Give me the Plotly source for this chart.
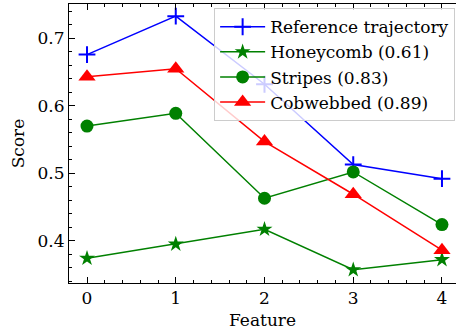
import plotly.graph_objects as go

features = [0, 1, 2, 3, 4]
reference = [0.676, 0.733, 0.632, 0.513, 0.492]
honeycomb = [0.374, 0.395, 0.417, 0.357, 0.372]
stripes = [0.570, 0.589, 0.463, 0.502, 0.424]
cobwebbed = [0.643, 0.655, 0.547, 0.469, 0.386]

names = ["Reference trajectory", "Honeycomb (0.61)", "Stripes (0.83)", "Cobwebbed (0.89)"]
series = [reference, honeycomb, stripes, cobwebbed]
colors = ["#0000ff", "#008000", "#008000", "#ff0000"]
symbols = ["cross-thin", "star", "circle", "triangle-up"]
sizes = [12, 12, 13, 15]

fig = go.Figure()
for n, s, c, sym, sz in zip(names, series, colors, symbols, sizes):
    fig.add_trace(go.Scatter(
        x=features, y=s, name=n, mode="lines+markers",
        line=dict(color=c, width=1.5),
        marker=dict(symbol=sym, size=sz, color=c,
                    line=dict(color=c, width=2 if sym == "cross-thin" else 0)),
    ))

font = dict(family="DejaVu Serif", size=17, color="black")
axis_common = dict(
    showgrid=False, zeroline=False, showline=True, linecolor="black", linewidth=1,
    ticks="inside", ticklen=6, tickwidth=1, tickcolor="black",
    tickfont=font, automargin=False,
)
fig.update_layout(
    width=456, height=333,
    margin=dict(l=69, r=0, t=4, b=50),
    paper_bgcolor="white", plot_bgcolor="white",
    font=font,
    xaxis=dict(range=[-0.203, 4.158], tickvals=features, mirror="allticks",
               minor=dict(ticks="inside", ticklen=3, dtick=0.2, tickcolor="black"),
               title=dict(text="Feature", font=font, standoff=6), **axis_common),
    yaxis=dict(range=[0.3374, 0.751], tickvals=[0.4, 0.5, 0.6, 0.7], mirror=False,
               minor=dict(ticks="inside", ticklen=3, dtick=0.02, tickcolor="black"),
               title=dict(text="Score", font=font, standoff=8), **axis_common),
    legend=dict(x=0.375, y=0.985, xanchor="left", yanchor="top",
                bgcolor="rgba(255,255,255,0.8)", bordercolor="#cccccc", borderwidth=1,
                font=dict(family="DejaVu Serif", size=17, color="black"),
                itemwidth=45, tracegroupgap=0),
    showlegend=True,
)
fig.write_html("out.html", config={"displayModeBar": False},
               post_script="document.body.style.margin='0';document.body.style.overflow='hidden';")
